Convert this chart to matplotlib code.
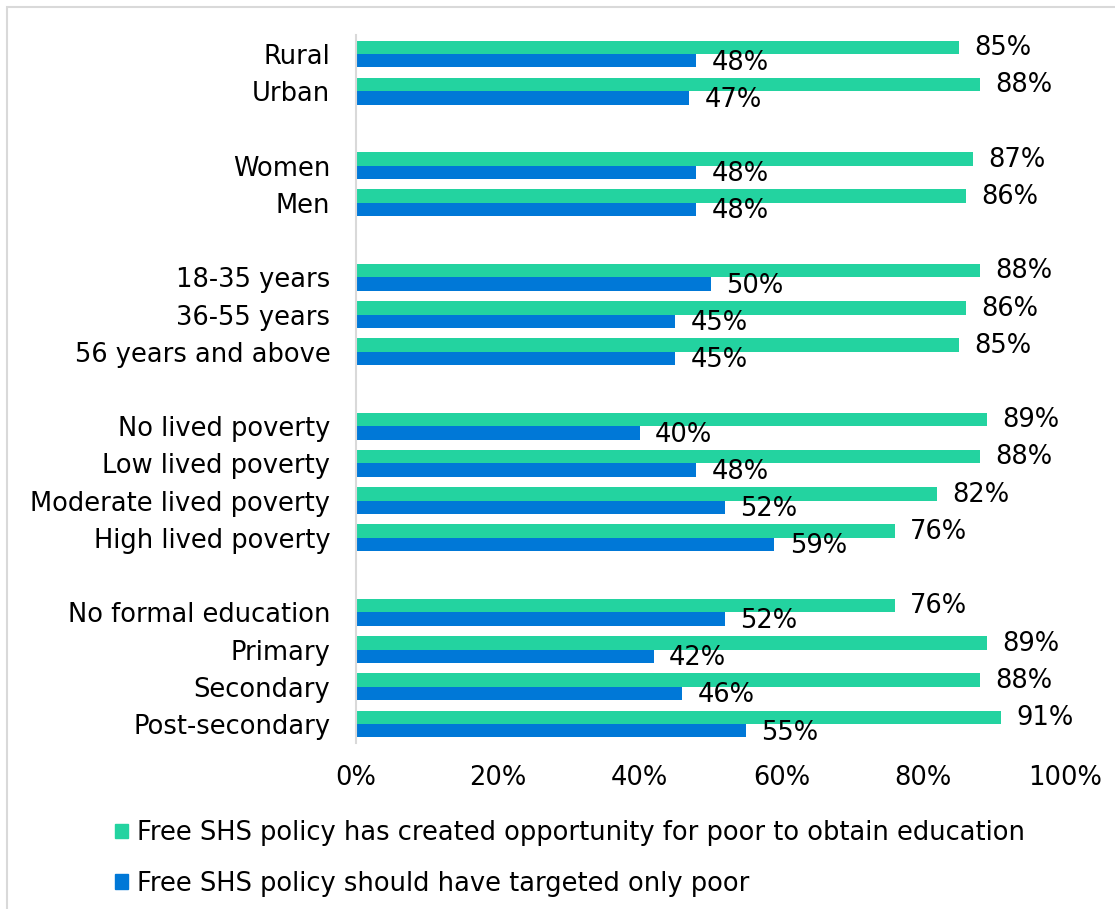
import matplotlib.pyplot as plt
from matplotlib.patches import Patch, Rectangle

plt.rcParams['font.family'] = ['DejaVu Sans']

# Categories top to bottom; empty strings are spacer rows between groups
categories = ["Rural", "Urban", "",
              "Women", "Men", "",
              "18-35 years", "36-55 years", "56 years and above", "",
              "No lived poverty", "Low lived poverty", "Moderate lived poverty", "High lived poverty", "",
              "No formal education", "Primary", "Secondary", "Post-secondary"]
opportunity = [85, 88, None, 87, 86, None, 88, 86, 85, None, 89, 88, 82, 76, None, 76, 89, 88, 91]
target_poor = [48, 47, None, 48, 48, None, 50, 45, 45, None, 40, 48, 52, 59, None, 52, 42, 46, 55]
x_ticks = [0, 20, 40, 60, 80, 100]
legend_labels = ["Free SHS policy has created opportunity for poor to obtain education",
                 "Free SHS policy should have targeted only poor"]

green = "#23D3A0"
blue = "#0078D7"

fig = plt.figure(figsize=(11.15, 9.09), dpi=100)
ax = fig.add_axes([356 / 1115, 1 - 742.6 / 909, (1065 - 356) / 1115, (742.6 - 35.4) / 909])

h = 0.36
fs = 18.5
for i, (g, b) in enumerate(zip(opportunity, target_poor)):
    if g is None:
        continue
    ax.barh(i - h / 2, g, height=h, color=green)
    ax.barh(i + h / 2, b, height=h, color=blue)
    ax.annotate(f"{g}%", (g, i - h / 2 + 0.02), xytext=(11, 0), textcoords="offset points",
                va="center", ha="left", fontsize=fs)
    ax.annotate(f"{b}%", (b, i + h / 2 + 0.05), xytext=(11, 0), textcoords="offset points",
                va="center", ha="left", fontsize=fs)

ax.set_ylim(len(categories) - 0.5, -0.5)
ax.set_xlim(0, 100)
ax.set_yticks(range(len(categories)))
ax.set_yticklabels(categories, fontsize=fs)
ax.set_xticks(x_ticks)
ax.set_xticklabels([f"{t}%" for t in x_ticks], fontsize=fs)
ax.tick_params(length=0)
ax.tick_params(axis="y", pad=18.5)
ax.tick_params(axis="x", pad=16)
for side in ["top", "right", "bottom"]:
    ax.spines[side].set_visible(False)
ax.spines["left"].set_color("#d9d9d9")
ax.spines["left"].set_linewidth(1.5)

handles = [Patch(color=green), Patch(color=blue)]
fig.legend(handles, legend_labels, loc="upper left", bbox_to_anchor=(92 / 1115, 1 - 797 / 909),
           frameon=False, fontsize=fs, handlelength=0.5, handleheight=0.5,
           handletextpad=0.35, labelspacing=0.95)

# light frame around the chart area
fig.patches.append(Rectangle((7 / 1115, -0.01), 1.1, 1 - 7 / 909 + 0.01, transform=fig.transFigure,
                             fill=False, edgecolor="#d9d9d9", linewidth=1.5))

fig.savefig("out.png", dpi=100)
